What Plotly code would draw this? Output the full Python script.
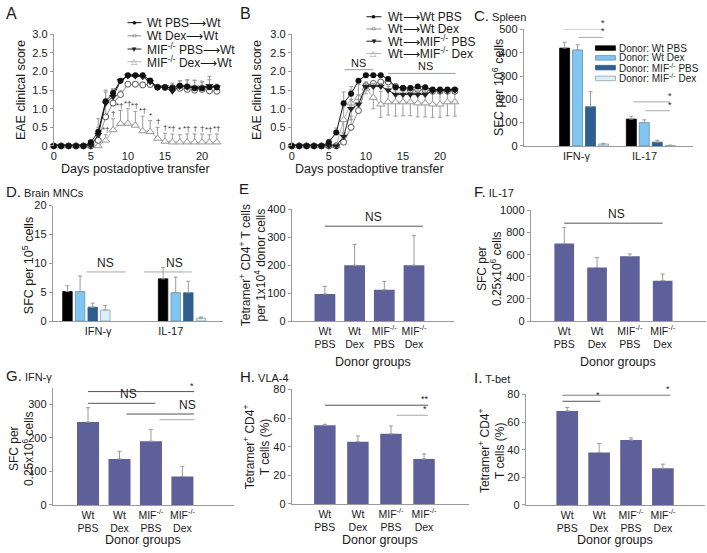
import plotly.graph_objects as go

W, H = 707, 553
FONT = "Liberation Sans, Arial, Helvetica, sans-serif"
TXT = "#1a1a1a"
AXC = "#9a9a9a"
ERRC = "#9a9a9a"

# ---------------- data ----------------
days = list(range(23))
day_ticks = [0, 5, 10, 15, 20]
score_ticks = [0, 0.5, 1.0, 1.5, 2.0, 2.5, 3.0]
score_ticktext = ["0", "0.5", "1.0", "1.5", "2.0", "2.5", "3.0"]

# Panel A
a_names = ["Wt PBS⟶Wt", "Wt Dex⟶Wt", "MIF<sup>-/-</sup> PBS⟶Wt", "MIF<sup>-/-</sup> Dex⟶Wt"]
a_wt_pbs = [0, 0, 0, 0, 0, 0.1, 0.38, 1.2, 1.42, 1.75, 1.9, 1.9, 1.9, 1.76, 1.58, 1.58, 1.56, 1.62, 1.6, 1.55, 1.55, 1.58, 1.58]
a_wt_pbs_err = [0, 0, 0, 0, 0, 0.05, 0.35, 0.3, 0.12, 0.05, 0.03, 0.05, 0.05, 0.05, 0.04, 0.04, 0.04, 0.05, 0.05, 0.08, 0.08, 0.06, 0.06]
a_wt_dex = [0, 0, 0, 0, 0, 0, 0.15, 0.78, 1.15, 1.38, 1.66, 1.66, 1.64, 1.65, 1.58, 1.57, 1.57, 1.55, 1.52, 1.5, 1.52, 1.48, 1.47]
a_wt_dex_err = [0, 0, 0, 0, 0, 0, 0.1, 0.4, 0.25, 0.1, 0.05, 0.06, 0.06, 0.06, 0.05, 0.05, 0.12, 0.2, 0.25, 0.25, 0.22, 0.3, 0.15]
a_mif_pbs = [0, 0, 0, 0, 0, 0, 0.3, 1.15, 1.32, 1.75, 1.88, 1.88, 1.86, 1.72, 1.58, 1.58, 1.47, 1.6, 1.58, 1.57, 1.57, 1.62, 1.58]
a_mif_pbs_err = [0, 0, 0, 0, 0, 0, 0.2, 0.3, 0.2, 0.05, 0.04, 0.05, 0.05, 0.05, 0.04, 0.04, 0.05, 0.15, 0.2, 0.2, 0.15, 0.25, 0.08]
a_mif_dex = [0, 0, 0, 0, 0, 0, 0, 0.15, 0.43, 0.6, 0.6, 0.55, 0.4, 0.38, 0.2, 0.12, 0.1, 0.1, 0.1, 0.1, 0.1, 0.1, 0.1]
a_mif_dex_err = [0, 0, 0, 0, 0, 0, 0, 0.15, 0.3, 0.35, 0.4, 0.38, 0.4, 0.3, 0.3, 0.22, 0.22, 0.2, 0.22, 0.22, 0.22, 0.2, 0.22]
a_marks = ["", "", "", "", "", "", "", "*†", "†", "*†", "*†", "*†", "*†", "*", "†", "†", "*†", "*", "*†", "†", "†", "*†", "*†"]

# Panel B
b_names = ["Wt⟶Wt PBS", "Wt⟶Wt Dex", "Wt⟶MIF<sup>-/-</sup> PBS", "Wt⟶MIF<sup>-/-</sup> Dex"]
b_wt_pbs = [0, 0, 0, 0, 0, 0.1, 0.36, 1.15, 1.4, 1.75, 1.9, 1.9, 1.9, 1.8, 1.58, 1.56, 1.56, 1.6, 1.58, 1.52, 1.52, 1.52, 1.52]
b_wt_pbs_err = [0, 0, 0, 0, 0, 0.08, 0.12, 0.3, 0.1, 0.05, 0.03, 0.03, 0.03, 0.05, 0.05, 0.05, 0.05, 0.05, 0.05, 0.05, 0.05, 0.05, 0.05]
b_wt_dex = [0, 0, 0, 0, 0, 0, 0, 0.1, 0.5, 0.95, 1.62, 1.68, 1.72, 1.72, 1.6, 1.55, 1.5, 1.52, 1.5, 1.47, 1.47, 1.47, 1.47]
b_wt_dex_err = [0, 0, 0, 0, 0, 0, 0, 0.05, 0.3, 0.3, 0.1, 0.05, 0.05, 0.05, 0.05, 0.05, 0.05, 0.05, 0.05, 0.05, 0.05, 0.05, 0.05]
b_mif_pbs = [0, 0, 0, 0, 0, 0, 0, 0.25, 1.0, 1.12, 1.6, 1.6, 1.6, 1.5, 1.38, 1.38, 1.38, 1.38, 1.38, 1.48, 1.48, 1.48, 1.5]
b_mif_pbs_err = [0, 0, 0, 0, 0, 0, 0, 0.1, 0.25, 0.25, 0.1, 0.08, 0.08, 0.1, 0.1, 0.1, 0.1, 0.1, 0.1, 0.05, 0.05, 0.05, 0.05]
b_mif_dex = [0, 0, 0, 0, 0, 0, 0, 0.7, 1.15, 1.3, 1.55, 1.3, 1.12, 1.18, 1.18, 1.18, 1.18, 1.15, 1.15, 1.12, 1.12, 1.18, 1.18]
b_mif_dex_err = [0, 0, 0, 0, 0, 0, 0, 0.35, 0.45, 0.35, 0.15, 0.3, 0.35, 0.35, 0.38, 0.37, 0.37, 0.37, 0.37, 0.35, 0.35, 0.37, 0.38]

# Panels C and D (cytokine ELISPOT by donor)
cyto_groups = ["IFN-γ", "IL-17"]
cd_donors = ["Donor: Wt PBS", "Donor: Wt Dex", "Donor: MIF<sup>-/-</sup> PBS", "Donor: MIF<sup>-/-</sup> Dex"]
c_vals = [[420, 115], [412, 100], [168, 16], [8, 2]]
c_errs = [[25, 12], [22, 12], [65, 8], [3, 1]]
d_vals = [[5.1, 7.3], [5.1, 4.9], [2.4, 4.9], [1.9, 0.5]]
d_errs = [[1.0, 2.0], [2.7, 2.7], [0.7, 2.0], [0.8, 0.2]]

# Panels E-I (donor groups)
donor_groups = ["Wt<br>PBS", "Wt<br>Dex", "MIF<sup>-/-</sup><br>PBS", "MIF<sup>-/-</sup><br>Dex"]
e_vals = [97, 200, 112, 200]
e_errs = [27, 75, 30, 107]
f_vals = [700, 485, 585, 365]
f_errs = [145, 90, 22, 60]
g_vals = [247, 137, 190, 85]
g_errs = [43, 23, 35, 30]
h_vals = [55, 43.5, 49, 31.5]
h_errs = [0.7, 4, 5.5, 3.5]
i_vals = [68, 38, 47, 26.5]
i_errs = [2.5, 6.5, 1.5, 3]

# significance brackets: (x0, x1, y, label, label_x, dark)
c_sig = [(-0.31, 0.28, 500, "*", 0.28, False), (-0.09, 0.28, 466, "*", 0.28, False),
         (0.73, 1.28, 189, "*", 1.28, False), (0.91, 1.28, 151, "*", 1.28, False)]
d_sig = [(0.0, 0.41, 8.5, "NS", 0.2, False), (0.6, 1.1, 8.5, "NS", 0.92, False)]
e_sig = [(0, 3.3, 340, "NS", 1.65, True)]
f_sig = [(0, 3.0, 885, "NS", 1.6, True)]
g_sig = [(0, 3.37, 338, "*", 3.32, True), (0, 2.14, 303, "NS", 1.3, True),
         (1.22, 3.37, 271, "NS", 3.15, True), (2.27, 3.37, 254, "", 3.0, False)]
h_sig = [(0, 3.12, 69, "**", 3.02, True), (2.17, 3.12, 62, "*", 3.02, False)]
i_sig = [(-0.15, 3.23, 79.5, "*", 3.15, True), (-0.15, 1.04, 75, "*", 0.95, True)]
b_sig = [(7.1, 11.0, 2.05, "NS", 9.0), (13.0, 22.1, 1.95, "NS", 18.0)]

# ---------------- layout helpers ----------------
fig = go.Figure()
ann = []
shapes = []


def dom(box):
    x0, x1, y0, y1 = box
    return [x0 / W, x1 / W], [1 - y1 / H, 1 - y0 / H]


def text(x, y, s, size=11, xanchor="center", yanchor="middle", angle=0, color=TXT, xref="paper", yref="paper"):
    if xref == "paper":
        x = x / W
    if yref == "paper":
        y = 1 - y / H
    ann.append(dict(x=x, y=y, xref=xref, yref=yref, text=s, showarrow=False, textangle=angle,
                    font=dict(size=size, color=color, family=FONT), xanchor=xanchor, yanchor=yanchor,
                    borderpad=0))


def pline(x0, y0, x1, y1, color, width=1):
    shapes.append(dict(type="line", xref="paper", yref="paper", x0=x0 / W, x1=x1 / W,
                       y0=1 - y0 / H, y1=1 - y1 / H, line=dict(color=color, width=width)))


boxes = {
    1: (51, 217, 29, 143),
    2: (290, 456, 29, 143),
    3: (523, 693, 24, 143),
    4: (50, 221, 204, 322),
    5: (290, 453, 208, 322),
    6: (530, 706, 209, 322),
    7: (50, 232, 390, 510),
    8: (290, 468, 392, 509),
    9: (525, 705, 397, 510),
}
xranges = {1: [0, 22.3], 2: [0, 22.3], 3: [-0.91, 1.627], 4: [-0.354, 1.427],
           5: [-1.117, 4.35], 6: [-1.02, 4.32], 7: [-1.12, 4.64], 8: [-1.0, 4.36], 9: [-1.30, 4.32]}
yranges = {1: [0, 3], 2: [0, 3], 3: [0, 500], 4: [0, 20], 5: [0, 400], 6: [0, 1000],
           7: [0, 350], 8: [0, 80], 9: [0, 80]}
ytickvals = {1: score_ticks, 2: score_ticks, 3: [0, 100, 200, 300, 400, 500], 4: [0, 5, 10, 15, 20],
             5: [0, 100, 200, 300, 400], 6: [0, 200, 400, 600, 800, 1000], 7: [0, 100, 200, 300],
             8: [0, 20, 40, 60, 80], 9: [0, 20, 40, 60, 80]}

layout = dict(width=W, height=H, margin=dict(l=0, r=0, t=0, b=0), plot_bgcolor="white",
              paper_bgcolor="white", showlegend=False, font=dict(family=FONT, size=11, color=TXT))

for k, box in boxes.items():
    xd, yd = dom(box)
    sfx = "" if k == 1 else str(k)
    xa = dict(domain=xd, anchor="y" + sfx, range=xranges[k], showgrid=False, zeroline=False,
              tickfont=dict(size=11, color=TXT), fixedrange=True)
    ya = dict(domain=yd, anchor="x" + sfx, range=yranges[k], showgrid=False, zeroline=False,
              showline=True, linecolor=AXC, linewidth=1, ticks="outside", ticklen=3, tickcolor=AXC,
              tickvals=ytickvals[k], tickfont=dict(size=11, color=TXT), fixedrange=True)
    if k in (1, 2):
        xa.update(tickvals=day_ticks, showline=False, ticks="", ticklabelstandoff=2)
        ya.update(ticktext=score_ticktext)
    else:
        xa.update(showline=True, linecolor=AXC, linewidth=1, ticks="")
        if k == 3:
            xa.update(tickvals=[-0.12, 0.9], ticktext=cyto_groups)
        elif k == 4:
            xa.update(tickvals=[0.12, 0.88], ticktext=cyto_groups)
        else:
            xa.update(type="category", tickfont=dict(size=10.5, color=TXT))
    layout["xaxis" + sfx] = xa
    layout["yaxis" + sfx] = ya

# ---------------- line panels ----------------
line_styles = [
    dict(line=dict(color="#111111", width=1), marker=dict(symbol="circle", size=6, color="#111111")),
    dict(line=dict(color="#8c8c8c", width=1), marker=dict(symbol="circle", size=6, color="white",
                                                          line=dict(color="#555555", width=1))),
    dict(line=dict(color="#222222", width=1), marker=dict(symbol="triangle-down", size=7, color="#222222")),
    dict(line=dict(color="#b3b3b3", width=1), marker=dict(symbol="triangle-up", size=7, color="white",
                                                          line=dict(color="#999999", width=1))),
]


def add_lines(ax, names, series, errs, symmetric_flags):
    order = [3, 1, 2, 0]
    for i in order:
        st = line_styles[i]
        ey = dict(type="data", array=errs[i], color=ERRC, thickness=1, width=2)
        if symmetric_flags[i]:
            ey["symmetric"] = True
        else:
            ey.update(symmetric=False, arrayminus=[0] * len(errs[i]))
        fig.add_trace(go.Scatter(x=days, y=series[i], name=names[i], mode="lines+markers",
                                 line=st["line"], marker=st["marker"], error_y=ey, cliponaxis=False,
                                 xaxis="x" + ax, yaxis="y" + ax))


add_lines("", a_names, [a_wt_pbs, a_wt_dex, a_mif_pbs, a_mif_dex],
          [a_wt_pbs_err, a_wt_dex_err, a_mif_pbs_err, a_mif_dex_err], [False] * 4)
add_lines("2", b_names, [b_wt_pbs, b_wt_dex, b_mif_pbs, b_mif_dex],
          [b_wt_pbs_err, b_wt_dex_err, b_mif_pbs_err, b_mif_dex_err], [False, False, False, True])

for d, lab in enumerate(a_marks):
    if lab:
        text(days[d], a_mif_dex[d] + a_mif_dex_err[d], lab, size=8, yanchor="bottom",
             color="#333333", xref="x", yref="y")

for x0, x1, yv, lab, lx in b_sig:
    shapes.append(dict(type="line", xref="x2", yref="y2", x0=x0, x1=x1, y0=yv, y1=yv,
                       line=dict(color="#999999", width=1)))
    text(lx, yv, lab, size=11, yanchor="bottom", xref="x2", yref="y2")

# legends for A and B (drawn as text rows)
leg_marks = ["●", "○", "▼", "△"]
leg_cols = ["#111111", "#555555", "#222222", "#999999"]
leg_line = ["#111111", "#8c8c8c", "#222222", "#b3b3b3"]
for names, rows, lx0, lx1, tx in [(a_names, [17, 30.5, 44, 57], 125, 139, 144),
                                  (b_names, [11, 23.5, 36, 48.5], 365, 380, 386)]:
    for i in range(4):
        pline(lx0, rows[i], lx1, rows[i], leg_line[i])
        text((lx0 + lx1) / 2, rows[i], leg_marks[i], size=8, color=leg_cols[i])
        text(tx, rows[i], names[i], size=12, xanchor="left")

# ---------------- grouped bar panels C, D ----------------
cd_colors = ["#000000", "#80c6f0", "#2f5e8e", "#dcf0fa"]
cd_outline = ["#000000", "#6a8fa8", "#2f5e8e", "#8aa0ad"]


def add_grouped(ax, vals, errs, width, start, step):
    for k in range(4):
        fig.add_trace(go.Bar(x=[0, 1], y=vals[k], name=cd_donors[k], width=width, offset=start + k * step,
                             marker=dict(color=cd_colors[k], line=dict(color=cd_outline[k], width=0.8)),
                             error_y=dict(type="data", array=errs[k], arrayminus=[0, 0], symmetric=False,
                                          color=ERRC, thickness=1, width=2),
                             xaxis="x" + ax, yaxis="y" + ax))


add_grouped("3", c_vals, c_errs, 0.15, -0.373, 0.194)
add_grouped("4", d_vals, d_errs, 0.099, -0.25, 0.132)

# C legend
c_rows = [43, 53, 63, 74]
for k in range(4):
    shapes.append(dict(type="rect", xref="paper", yref="paper", x0=595 / W, x1=615 / W,
                       y0=1 - (c_rows[k] + 2.3) / H, y1=1 - (c_rows[k] - 2.3) / H,
                       fillcolor=cd_colors[k], line=dict(color=cd_outline[k], width=0.8)))
    text(618, c_rows[k], cd_donors[k], size=10, xanchor="left")

# ---------------- single bar panels E-I ----------------
bar_col = "#5e6199"
for ax, vals, errs, wd in [("5", e_vals, e_errs, 0.7), ("6", f_vals, f_errs, 0.6), ("7", g_vals, g_errs, 0.7),
                           ("8", h_vals, h_errs, 0.65), ("9", i_vals, i_errs, 0.68)]:
    fig.add_trace(go.Bar(x=donor_groups, y=vals, width=wd, marker=dict(color=bar_col, line=dict(width=0)),
                         error_y=dict(type="data", array=errs, arrayminus=[0] * 4, symmetric=False,
                                      color=ERRC, thickness=1, width=2),
                         xaxis="x" + ax, yaxis="y" + ax))

# significance brackets
for ax, sig, ymax in [("3", c_sig, 500), ("4", d_sig, 20), ("5", e_sig, 400), ("6", f_sig, 1000),
                      ("7", g_sig, 350), ("8", h_sig, 80), ("9", i_sig, 80)]:
    for x0, x1, yv, lab, lx, dark in sig:
        shapes.append(dict(type="line", xref="x" + ax, yref="y" + ax, x0=x0, x1=x1, y0=yv, y1=yv,
                           line=dict(color="#555555" if dark else "#a8a8a8", width=1)))
        if lab:
            small = lab.startswith("*")
            text(lx, yv + (0 if small else ymax * 0.01), lab, size=9 if small else 12,
                 yanchor="bottom", xref="x" + ax, yref="y" + ax)

# ---------------- titles ----------------
text(2, 8, "A", size=16, xanchor="left")
text(237, 8, "B", size=16, xanchor="left")
text(472, 10, "C.<span style='font-size:11px'> Spleen</span>", size=15, xanchor="left")
text(2, 190, "D.<span style='font-size:11px'> Brain MNCs</span>", size=15, xanchor="left")
text(236, 187, "E", size=15, xanchor="left")
text(472, 190, "F.<span style='font-size:11px'> IL-17</span>", size=15, xanchor="left")
text(2, 378, "G.<span style='font-size:11px'> IFN-γ</span>", size=15, xanchor="left")
text(237, 379, "H.<span style='font-size:11px'> VLA-4</span>", size=15, xanchor="left")
text(472, 380, "I.<span style='font-size:11px'> T-bet</span>", size=15, xanchor="left")

# axis titles
text(18, 86, "EAE clinical score", size=12.5, angle=-90)
text(255, 86, "EAE clinical score", size=12.5, angle=-90)
text(133, 167, "Days postadoptive transfer", size=12.5)
text(368, 167, "Days postadoptive transfer", size=12.5)
text(497, 83, "SFC per 10<sup>6</sup> cells", size=12.5, angle=-90)
text(25, 265, "SFC per 10<sup>5</sup> cells", size=12.5, angle=-90)
text(251, 265, "Tetramer<sup>+</sup> CD4<sup>+</sup> T cells<br>per 1x10<sup>4</sup> donor cells", size=12, angle=-90)
text(489, 268, "SFC per<br>0.25x10<sup>6</sup> cells", size=12, angle=-90)
text(19, 452, "SFC per<br>0.25x10<sup>6</sup> cells", size=12, angle=-90)
text(255, 450, "Tetramer<sup>+</sup> CD4<sup>+</sup><br>T cells (%)", size=12, angle=-90)
text(491, 454, "Tetramer<sup>+</sup> CD4<sup>+</sup><br>T cells (%)", size=12, angle=-90)
for cx, cy in [(372, 364), (618, 364), (141, 546), (379, 546), (615, 546)]:
    text(cx, cy, "Donor groups", size=12.5)

layout["annotations"] = ann
layout["shapes"] = shapes
fig.update_layout(**layout)
fig.write_html("out.html", config={"displayModeBar": False},
               post_script="document.body.style.margin='0';document.body.style.overflow='hidden';")
